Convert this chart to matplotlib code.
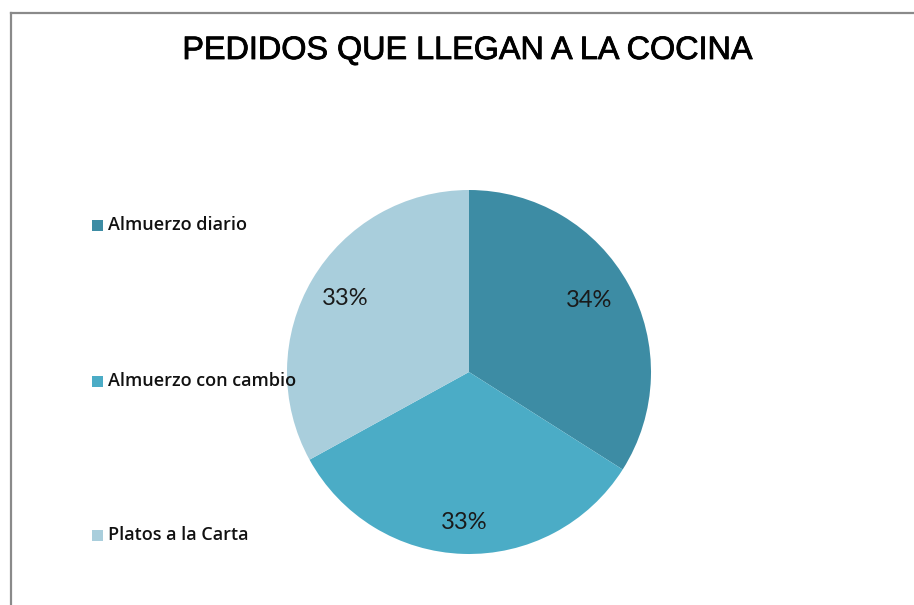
import matplotlib
matplotlib.use("Agg")
import matplotlib.pyplot as plt
from matplotlib.lines import Line2D
import matplotlib.patheffects as pe
import numpy as np

categories = ["Almuerzo diario", "Almuerzo con cambio", "Platos a la Carta"]
values = [34, 33, 33]
labels_pct = ["34%", "33%", "33%"]
colors = ["#3D8CA4", "#4BACC6", "#A9CEDC"]
title = "PEDIDOS QUE LLEGAN A LA COCINA"

# layout of percentage labels (radial distance as fraction of radius, angle nudge in degrees)
label_dist = [0.77, 0.83, 0.79]
label_nudge = [2.0, 0.0, 0.0]

W, H = 914, 605
fig = plt.figure(figsize=(W / 100, H / 100), dpi=100)
fig.patch.set_facecolor("white")

# border (left and top only visible)
fig.add_artist(Line2D([10.5 / W, 10.5 / W], [0, 1 - 12.5 / H], color="#8A8A8A", lw=1.6))
fig.add_artist(Line2D([10.5 / W, 1], [1 - 12.5 / H, 1 - 12.5 / H], color="#8A8A8A", lw=1.6))

cx, cy, r = 469, 372, 182
ax = fig.add_axes([(cx - r) / W, 1 - (cy + r) / H, 2 * r / W, 2 * r / H])
wedges, _ = ax.pie(values, colors=colors, startangle=90, counterclock=False,
                   radius=1.0, wedgeprops=dict(linewidth=0))
ax.set_xlim(-1, 1)
ax.set_ylim(-1, 1)
ax.set_aspect("auto")
ax.axis("off")

total = sum(values)
start = 90.0
for v, lab, d, nd in zip(values, labels_pct, label_dist, label_nudge):
    ang = np.deg2rad(start - v / total * 360 / 2 + nd)
    ax.text(d * np.cos(ang), d * np.sin(ang), lab,
            ha="center", va="center", fontsize=17, family="Lato", color="#1a1a1a")
    start -= v / total * 360

fig.text(467.5 / W, 1 - 51 / H, title, ha="center", va="center", fontsize=23.3,
         family="Liberation Sans", color="black",
         path_effects=[pe.withStroke(linewidth=0.6, foreground="black")])

ys = [225, 381, 535]
for c, lab, y in zip(colors, categories, ys):
    fig.patches.append(plt.Rectangle((92 / W, 1 - (y + 6) / H), 11 / W, 11 / H,
                                     transform=fig.transFigure, facecolor=c, edgecolor="none"))
    fig.text(108 / W, 1 - y / H, lab, ha="left", va="center", fontsize=13,
             family="Open Sans", weight="semibold", color="#111111")

fig.savefig("out.png", dpi=100)
